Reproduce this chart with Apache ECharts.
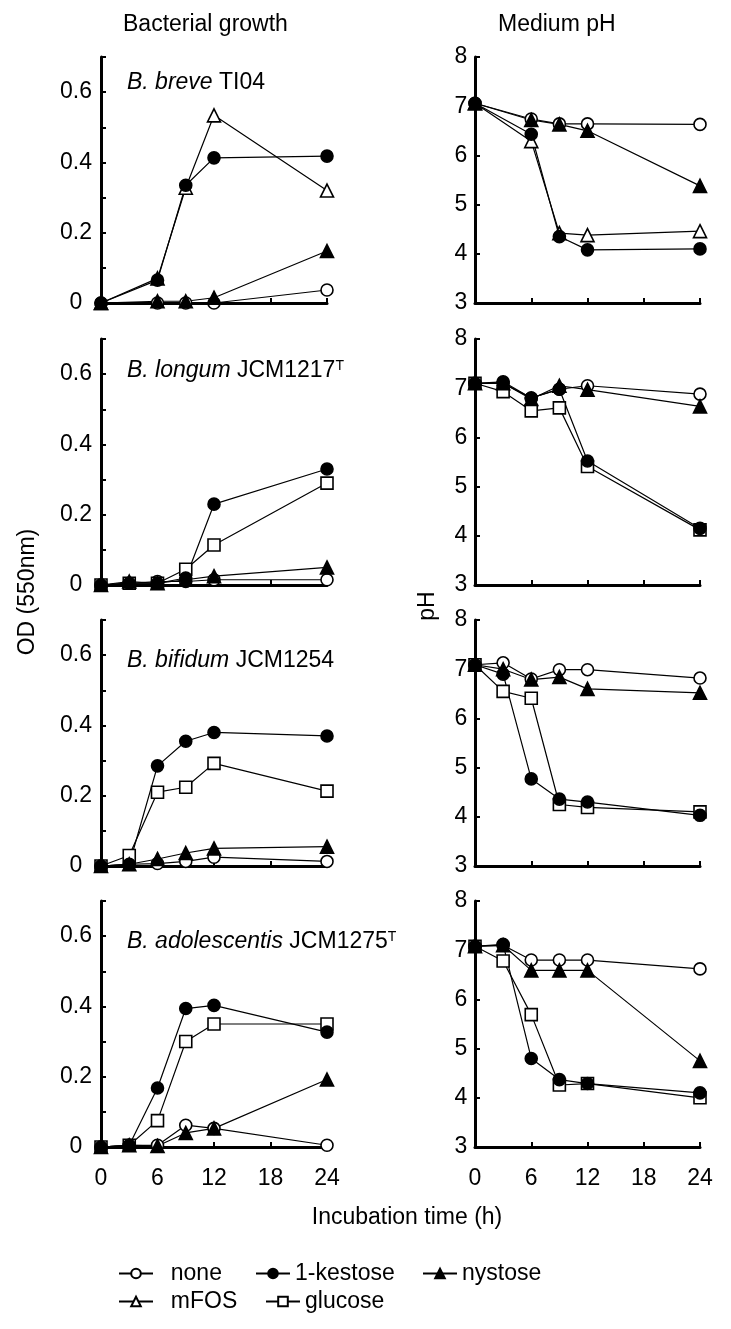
<!DOCTYPE html>
<html><head><meta charset="utf-8">
<script src="https://cdn.jsdelivr.net/npm/echarts@6/dist/echarts.min.js"></script>
<style>html,body{margin:0;padding:0;background:#fff}#c{width:731px;height:1329px}</style>
</head><body><div id="c"></div><script>
// ---------- data ----------
const TIME_5 = [0, 6, 9, 12, 24];
const TIME_6 = [0, 3, 6, 9, 12, 24];
const X_TICKS = [0, 6, 12, 18, 24];
const OD_TICKS = [0, 0.2, 0.4, 0.6];
const PH_TICKS = [3, 4, 5, 6, 7, 8];
const SERIES_NAMES = ['none', '1-kestose', 'nystose', 'mFOS', 'glucose'];
const STRAINS = ['B. breve', 'B. longum', 'B. bifidum', 'B. adolescentis'];
const STRAIN_CODES = ['TI04', 'JCM1217', 'JCM1254', 'JCM1275'];
const STRAIN_SUP = ['', 'T', '', 'T'];

// B. breve TI04 (times TIME_5)
const breve_od_none    = [0, 0, 0, 0, 0.037];
const breve_od_kestose = [0, 0.065, 0.335, 0.413, 0.418];
const breve_od_nystose = [0, 0.005, 0.005, 0.015, 0.148];
const breve_od_mfos    = [0, 0.07, 0.328, 0.534, 0.32];
const breve_ph_none    = [7.06, 6.74, 6.64, 6.64, 6.63];
const breve_ph_kestose = [7.06, 6.43, 4.35, 4.08, 4.1];
const breve_ph_nystose = [7.06, 6.72, 6.63, 6.5, 5.38];
const breve_ph_mfos    = [7.06, 6.29, 4.42, 4.38, 4.46];

// B. longum JCM1217T (times TIME_6)
const longum_od_none    = [0, 0.005, 0.01, 0.01, 0.015, 0.015];
const longum_od_kestose = [0, 0.005, 0.005, 0.02, 0.23, 0.33];
const longum_od_nystose = [0, 0.01, 0.005, 0.015, 0.025, 0.05];
const longum_od_glucose = [0, 0.005, 0.005, 0.045, 0.114, 0.29];
const longum_ph_none    = [7.1, 7.1, 6.8, 6.98, 7.05, 6.88];
const longum_ph_kestose = [7.1, 7.13, 6.8, 6.98, 5.52, 4.15];
const longum_ph_nystose = [7.1, 7.1, 6.78, 7.05, 6.97, 6.63];
const longum_ph_glucose = [7.1, 6.93, 6.54, 6.6, 5.41, 4.12];

// B. bifidum JCM1254 (times TIME_6)
const bifidum_od_none    = [0, 0.005, 0.007, 0.013, 0.025, 0.013];
const bifidum_od_kestose = [0, 0.005, 0.285, 0.355, 0.38, 0.37];
const bifidum_od_nystose = [0, 0.005, 0.02, 0.037, 0.05, 0.055];
const bifidum_od_glucose = [0, 0.03, 0.21, 0.224, 0.292, 0.213];
const bifidum_ph_none    = [7.09, 7.13, 6.8, 6.99, 6.99, 6.82];
const bifidum_ph_kestose = [7.09, 6.9, 4.77, 4.36, 4.3, 4.03];
const bifidum_ph_nystose = [7.09, 7.0, 6.79, 6.84, 6.6, 6.52];
const bifidum_ph_glucose = [7.09, 6.55, 6.41, 4.25, 4.19, 4.1];

// B. adolescentis JCM1275T (times TIME_6)
const adol_od_none    = [0, 0.005, 0.005, 0.062, 0.053, 0.005];
const adol_od_kestose = [0, 0.005, 0.168, 0.394, 0.403, 0.327];
const adol_od_nystose = [0, 0.005, 0.003, 0.04, 0.053, 0.192];
const adol_od_glucose = [0, 0.005, 0.075, 0.3, 0.35, 0.35];
const adol_ph_none    = [7.08, 7.1, 6.8, 6.8, 6.8, 6.62];
const adol_ph_kestose = [7.08, 7.12, 4.8, 4.37, 4.29, 4.1];
const adol_ph_nystose = [7.08, 7.1, 6.59, 6.59, 6.59, 4.75];
const adol_ph_glucose = [7.08, 6.78, 5.69, 4.26, 4.29, 4.0];

// ---------- panel assembly ----------
const PANELS = [
  {times: TIME_5, od: {'none': breve_od_none, '1-kestose': breve_od_kestose, 'nystose': breve_od_nystose, 'mFOS': breve_od_mfos},
                  ph: {'none': breve_ph_none, '1-kestose': breve_ph_kestose, 'nystose': breve_ph_nystose, 'mFOS': breve_ph_mfos}},
  {times: TIME_6, od: {'none': longum_od_none, '1-kestose': longum_od_kestose, 'nystose': longum_od_nystose, 'glucose': longum_od_glucose},
                  ph: {'none': longum_ph_none, '1-kestose': longum_ph_kestose, 'nystose': longum_ph_nystose, 'glucose': longum_ph_glucose}},
  {times: TIME_6, od: {'none': bifidum_od_none, '1-kestose': bifidum_od_kestose, 'nystose': bifidum_od_nystose, 'glucose': bifidum_od_glucose},
                  ph: {'none': bifidum_ph_none, '1-kestose': bifidum_ph_kestose, 'nystose': bifidum_ph_nystose, 'glucose': bifidum_ph_glucose}},
  {times: TIME_6, od: {'none': adol_od_none, '1-kestose': adol_od_kestose, 'nystose': adol_od_nystose, 'glucose': adol_od_glucose},
                  ph: {'none': adol_ph_none, '1-kestose': adol_ph_kestose, 'nystose': adol_ph_nystose, 'glucose': adol_ph_glucose}}
];

const FONT = '"Liberation Sans", Arial, sans-serif';
const FS = 23;
const STYLE = {
  'none':      {symbol: 'circle',   fill: '#fff', size: 12},
  '1-kestose': {symbol: 'circle',   fill: '#000', size: 12},
  'nystose':   {symbol: 'triangle', fill: '#000', size: 13},
  'mFOS':      {symbol: 'triangle', fill: '#fff', size: 13},
  'glucose':   {symbol: 'rect',     fill: '#fff', size: 12}
};
const DRAW_ORDER = ['none', 'glucose', 'mFOS', 'nystose', '1-kestose'];

const LEFT_X = 101, LEFT_W = 226, RIGHT_X = 475, RIGHT_W = 225;
const BOTTOMS = [303, 585, 866, 1147];
const TITLE_Y = [79, 367, 657, 938];
const H = 246;

const grids = [], xAxes = [], yAxes = [], series = [], titles = [];

const AXIS_LINE = {show: true, onZero: false, lineStyle: {color: '#000', width: 3}};
const AXIS_TICK = {show: true, inside: true, length: 5, lineStyle: {color: '#000', width: 2}};

function xAxisCfg(gi, showLabels) {
  return {
    gridIndex: gi, type: 'value', min: 0, max: 24, interval: 6,
    axisLine: AXIS_LINE, axisTick: AXIS_TICK, splitLine: {show: false},
    axisLabel: {show: showLabels, color: '#000', fontSize: FS, fontFamily: FONT, margin: 20,
      formatter: v => X_TICKS.includes(v) ? String(v) : ''}
  };
}

PANELS.forEach((p, r) => {
  const bottom = BOTTOMS[r];
  ['od', 'ph'].forEach((kind, c) => {
    const gi = grids.length;
    grids.push({left: c === 0 ? LEFT_X : RIGHT_X, width: c === 0 ? LEFT_W : RIGHT_W, top: bottom - H, height: H});
    xAxes.push(xAxisCfg(gi, r === 3));
    if (kind === 'od') {
      yAxes.push({gridIndex: gi, type: 'value', min: 0, max: 0.7, interval: 0.1,
        axisLine: AXIS_LINE, axisTick: AXIS_TICK, splitLine: {show: false},
        axisLabel: {color: '#000', fontSize: FS, fontFamily: FONT, margin: 25, align: 'center',
          formatter: v => { const k = Math.round(v * 10) / 10; return OD_TICKS.some(t => Math.abs(t - k) < 1e-9) ? (k === 0 ? '0' : k.toFixed(1)) : ''; }}
      });
    } else {
      yAxes.push({gridIndex: gi, type: 'value', min: 3, max: 8, interval: 1,
        axisLine: AXIS_LINE, axisTick: AXIS_TICK, splitLine: {show: false},
        axisLabel: {color: '#000', fontSize: FS, fontFamily: FONT, margin: 14, align: 'center',
          formatter: v => PH_TICKS.includes(v) ? String(v) : ''}
      });
    }
    const set = p[kind];
    DRAW_ORDER.forEach(name => {
      if (!set[name]) return;
      const st = STYLE[name];
      series.push({
        name: name, type: 'line', xAxisIndex: gi, yAxisIndex: gi,
        data: p.times.map((t, i) => [t, set[name][i]]),
        symbol: st.symbol, symbolSize: st.size, showSymbol: true,
        lineStyle: {color: '#000', width: 1.2},
        itemStyle: {color: st.fill, borderColor: '#000', borderWidth: 1.6},
        emphasis: {disabled: true}, animation: false
      });
    });
  });
  const sup = STRAIN_SUP[r] ? '{s|' + STRAIN_SUP[r] + '}' : '';
  titles.push({
    text: '{i|' + STRAINS[r] + '} ' + STRAIN_CODES[r] + sup,
    left: 122, top: TITLE_Y[r] - 13,
    textStyle: {fontSize: FS, fontWeight: 'normal', fontFamily: FONT, color: '#000',
      rich: {
        i: {fontStyle: 'italic', fontSize: FS, fontFamily: FONT, color: '#000'},
        s: {fontSize: 14, fontFamily: FONT, color: '#000', verticalAlign: 'top'}
      }}
  });
});

const LEGEND_POS = {
  'none': [113, 1257], '1-kestose': [250, 1257], 'nystose': [417, 1257],
  'mFOS': [113, 1285], 'glucose': [260, 1285]
};
const LEGEND_PAD = {'none': '  ', 'mFOS': '  ', '1-kestose': '', 'nystose': '', 'glucose': ''};
const legends = SERIES_NAMES.map(n => ({
  data: [n], left: LEGEND_POS[n][0], top: LEGEND_POS[n][1], orient: 'horizontal',
  itemWidth: 34, itemHeight: 12, selectedMode: false,
  formatter: name => LEGEND_PAD[name] + name,
  textStyle: {fontSize: FS, fontFamily: FONT, color: '#000'}
}));

const chart = echarts.init(document.getElementById('c'), null, {renderer: 'canvas'});
chart.setOption({
  backgroundColor: '#fff',
  animation: false,
  title: titles,
  legend: legends,
  grid: grids, xAxis: xAxes, yAxis: yAxes, series: series,
  graphic: [
    {type: 'text', x: 123, y: 25, style: {text: 'Bacterial growth', font: FS + 'px ' + FONT, fill: '#000', align: 'left', verticalAlign: 'middle'}},
    {type: 'text', x: 498, y: 25, style: {text: 'Medium pH', font: FS + 'px ' + FONT, fill: '#000', align: 'left', verticalAlign: 'middle'}},
    {type: 'text', x: 28, y: 592, rotation: Math.PI / 2, style: {text: 'OD (550nm)', font: FS + 'px ' + FONT, fill: '#000', align: 'center', verticalAlign: 'middle'}},
    {type: 'text', x: 428, y: 606, rotation: Math.PI / 2, style: {text: 'pH', font: FS + 'px ' + FONT, fill: '#000', align: 'center', verticalAlign: 'middle'}},
    {type: 'text', x: 407, y: 1218, style: {text: 'Incubation time (h)', font: FS + 'px ' + FONT, fill: '#000', align: 'center', verticalAlign: 'middle'}}
  ]
});
</script></body></html>
